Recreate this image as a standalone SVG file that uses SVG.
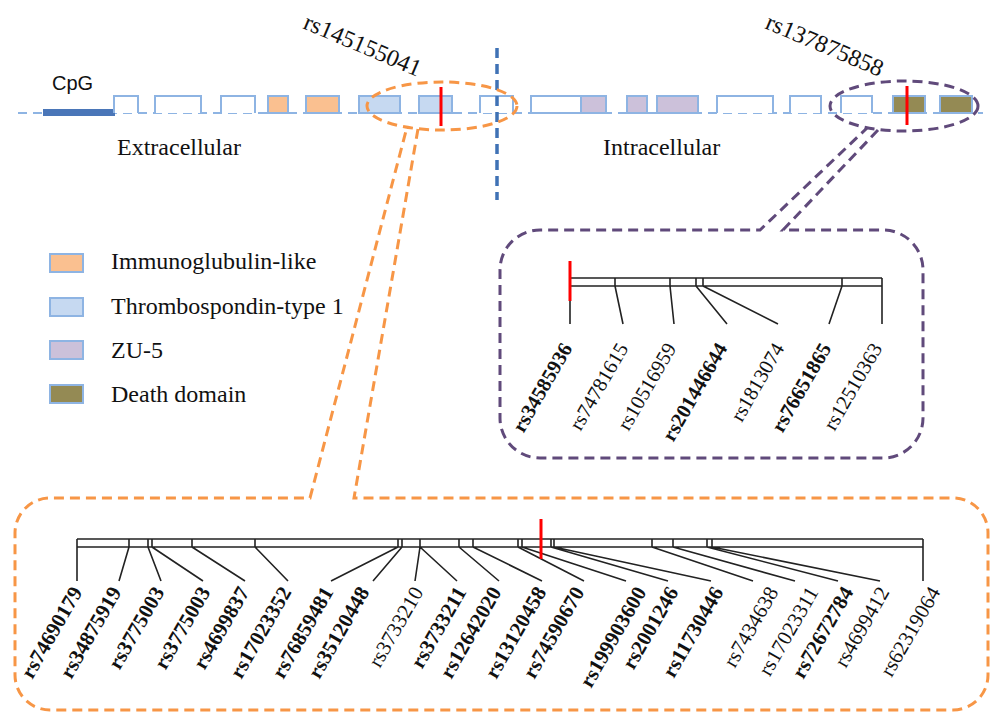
<svg xmlns="http://www.w3.org/2000/svg" width="993" height="712" viewBox="0 0 993 712">
<style>
.serif{font-family:"Liberation Serif","Times New Roman",serif;fill:#111}
.sans{font-family:"Liberation Sans",Arial,sans-serif;fill:#111}
.lbl{font-family:"Liberation Serif","Times New Roman",serif;font-size:21px;fill:#111}
.plbl{font-family:"Liberation Serif","Times New Roman",serif;font-size:20.5px;fill:#111}
.b{font-weight:bold}
.dom{stroke:#8eb4e3;stroke-width:2}
.wbox{fill:#fff;stroke:#8eb4e3;stroke-width:2}
.ig{fill:#fac090}
.tsp{fill:#c6d9f1}
.zu{fill:#ccc1da}
.dd{fill:#948a54}
.tree{stroke:#222;stroke-width:1.6;fill:none}
.snp{stroke:#ff0000;stroke-width:3}
.orng{fill:none;stroke:#f79646;stroke-width:3;stroke-dasharray:10,6}
.purp{fill:none;stroke:#604a7b;stroke-width:3;stroke-dasharray:10,6}
</style>

<g id="gene-track">
  <line x1="18" y1="113" x2="983" y2="113" stroke="#8eb4e3" stroke-width="2" stroke-dasharray="9,6"/>
  <rect x="43" y="109" width="72" height="7" fill="#4a76b8"/>
  <text class="sans" x="52" y="90" font-size="20">CpG</text>
  <path class="wbox" d="M114,113 V96 H138 V113"/>
  <path class="wbox" d="M155,113 V96 H201 V113"/>
  <path class="wbox" d="M221,113 V96 H255 V113"/>
  <rect class="dom ig" x="268" y="96" width="20" height="17"/>
  <rect class="dom ig" x="306" y="96" width="33" height="17"/>
  <rect class="dom tsp" x="359" y="96" width="41" height="17"/>
  <rect class="dom tsp" x="419" y="96" width="33" height="17"/>
  <path class="wbox" d="M480,113 V96 H513 V113"/>
  <path class="wbox" d="M581,113 H531 V96 H581"/>
  <rect class="dom zu" x="581" y="96" width="25" height="17"/>
  <rect class="dom zu" x="627" y="96" width="20" height="17"/>
  <rect class="dom zu" x="657" y="96" width="41" height="17"/>
  <path class="wbox" d="M717,113 V96 H773 V113"/>
  <path class="wbox" d="M790,113 V96 H821 V113"/>
  <path class="wbox" d="M841,113 V96 H872 V113"/>
  <rect class="dom dd" x="893" y="96" width="32" height="17"/>
  <rect class="dom dd" x="940" y="96" width="32" height="17"/>
  <line class="snp" x1="441" y1="87" x2="441" y2="126"/>
  <line class="snp" x1="907" y1="86" x2="907" y2="125"/>
  <line x1="497" y1="48" x2="497" y2="200" stroke="#3f72b5" stroke-width="3.5" stroke-dasharray="10,6"/>
  <text class="serif" x="117" y="155" font-size="24">Extracellular</text>
  <text class="serif" x="603" y="155" font-size="24">Intracellular</text>
  <text class="serif" font-size="24" transform="translate(302,28) rotate(23)">rs145155041</text>
  <text class="serif" font-size="24" transform="translate(764,28) rotate(23)">rs137875858</text>
</g>

<g id="legend">
  <rect class="dom ig" x="50" y="254" width="33" height="18"/>
  <rect class="dom tsp" x="50" y="298" width="33" height="18"/>
  <rect class="dom zu" x="50" y="341" width="33" height="18"/>
  <rect class="dom dd" x="50" y="385" width="33" height="18"/>
  <text class="serif" x="111" y="269" font-size="24">Immunoglubulin-like</text>
  <text class="serif" x="111" y="314" font-size="24">Thrombospondin-type 1</text>
  <text class="serif" x="111" y="358" font-size="24">ZU-5</text>
  <text class="serif" x="111" y="402" font-size="24">Death domain</text>
</g>

<g id="connectors">
  <ellipse class="orng" cx="442" cy="106" rx="75" ry="24"/>
  <ellipse class="purp" cx="904" cy="106" rx="74" ry="25"/>
  <path class="orng" d="M418,129 L354,498 L953,498 A35,35 0 0 1 988,533 L988,675 A35,35 0 0 1 953,710 L50,710 A35,35 0 0 1 15,675 L15,533 A35,35 0 0 1 50,498 L310,498 L407,127"/>
  <path class="purp" d="M878,130 L783,230 L883,230 A40,40 0 0 1 923,270 L923,418 A40,40 0 0 1 883,458 L540,458 A40,40 0 0 1 500,418 L500,270 A40,40 0 0 1 540,230 L760,230 L867,128"/>
</g>

<g id="death-domain-detail">
  <path class="tree" d="M570,278 H882 M570,286 H882 M570,278 V324 M615,278 V286 M670,278 V286 M696,278 V286 M703,278 V286 M842,278 V286 M882,278 V324 M615,286 L623,324 M670,286 L674,324 M696,286 L727,324 M703,286 L778,324 M842,286 L829,324"/>
  <line class="snp" x1="570" y1="261" x2="570" y2="301"/>
  <g class="plbl">
    <text class="b" text-anchor="end" transform="translate(573,348) rotate(-60)">rs34585936</text>
    <text text-anchor="end" transform="translate(629,348) rotate(-60)">rs74781615</text>
    <text text-anchor="end" transform="translate(677,348) rotate(-60)">rs10516959</text>
    <text class="b" text-anchor="end" transform="translate(728,348) rotate(-60)">rs201446644</text>
    <text text-anchor="end" transform="translate(785,348) rotate(-60)">rs1813074</text>
    <text class="b" text-anchor="end" transform="translate(832,348) rotate(-60)">rs76651865</text>
    <text text-anchor="end" transform="translate(883,348) rotate(-60)">rs12510363</text>
  </g>
</g>

<g id="tsp-detail">
  <path class="tree" d="M77,539 H923 M77,547 H923 M77,539 V581 M923,539 V581
   M129,539 V547 M148,539 V547 M152,539 V547 M192,539 V547 M255,539 V547 M398,539 V547 M402,539 V547 M420,539 V547 M459,539 V547 M473,539 V547 M518,539 V547 M522,539 V547 M551,539 V547 M554,539 V547 M652,539 V547 M673,539 V547 M707,539 V547 M712,539 V547
   M129,547 L119,581 M148,547 L161,581 M152,547 L203,581 M192,547 L245,581 M255,547 L288,581 M398,547 L331,581 M402,547 L373,581 M420,547 L415,581 M420,547 L457,581 M459,547 L499,581 M473,547 L542,581 M518,547 L584,581 M522,547 L626,581 M551,547 L668,581 M554,547 L711,581 M652,547 L753,581 M673,547 L795,581 M707,547 L838,581 M712,547 L880,581"/>
  <line class="snp" x1="541" y1="519" x2="541" y2="559"/>
  <g class="lbl">
    <text class="b" text-anchor="end" transform="translate(83,592) rotate(-60)">rs74690179</text>
    <text class="b" text-anchor="end" transform="translate(122,592) rotate(-60)">rs34875919</text>
    <text class="b" text-anchor="end" transform="translate(165,592) rotate(-60)">rs3775003</text>
    <text class="b" text-anchor="end" transform="translate(211,592) rotate(-60)">rs3775003</text>
    <text class="b" text-anchor="end" transform="translate(250,592) rotate(-60)">rs4699837</text>
    <text class="b" text-anchor="end" transform="translate(292,592) rotate(-60)">rs17023352</text>
    <text class="b" text-anchor="end" transform="translate(334,592) rotate(-60)">rs76859481</text>
    <text class="b" text-anchor="end" transform="translate(370,592) rotate(-60)">rs35120448</text>
    <text text-anchor="end" transform="translate(424,592) rotate(-60)">rs3733210</text>
    <text class="b" text-anchor="end" transform="translate(467,592) rotate(-60)">rs3733211</text>
    <text class="b" text-anchor="end" transform="translate(502,592) rotate(-60)">rs12642020</text>
    <text class="b" text-anchor="end" transform="translate(547,592) rotate(-60)">rs13120458</text>
    <text class="b" text-anchor="end" transform="translate(585,592) rotate(-60)">rs74590670</text>
    <text class="b" text-anchor="end" transform="translate(647,592) rotate(-60)">rs199903600</text>
    <text class="b" text-anchor="end" transform="translate(679,592) rotate(-60)">rs2001246</text>
    <text class="b" text-anchor="end" transform="translate(724,592) rotate(-60)">rs11730446</text>
    <text text-anchor="end" transform="translate(779,592) rotate(-60)">rs7434638</text>
    <text text-anchor="end" transform="translate(819,592) rotate(-60)">rs17023311</text>
    <text class="b" text-anchor="end" transform="translate(854,592) rotate(-60)">rs72672784</text>
    <text text-anchor="end" transform="translate(890,592) rotate(-60)">rs4699412</text>
    <text text-anchor="end" transform="translate(941,592) rotate(-60)">rs62319064</text>
  </g>
</g>
</svg>
